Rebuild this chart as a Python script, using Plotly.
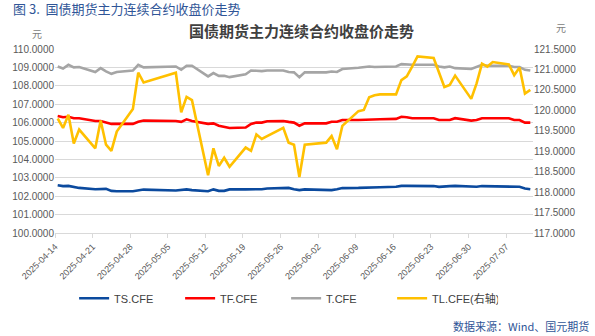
import pandas as pd
import plotly.graph_objects as go

dates = [
    "2025-04-14","2025-04-15","2025-04-16","2025-04-17","2025-04-18",
    "2025-04-21","2025-04-22","2025-04-23","2025-04-24","2025-04-25",
    "2025-04-28","2025-04-29","2025-04-30",
    "2025-05-06","2025-05-07","2025-05-08","2025-05-09",
    "2025-05-12","2025-05-13","2025-05-14","2025-05-15","2025-05-16",
    "2025-05-19","2025-05-20","2025-05-21","2025-05-22","2025-05-23",
    "2025-05-26","2025-05-27","2025-05-28","2025-05-29","2025-05-30",
    "2025-06-03","2025-06-04","2025-06-05","2025-06-06",
    "2025-06-09","2025-06-10","2025-06-11","2025-06-12","2025-06-13",
    "2025-06-16","2025-06-17","2025-06-18","2025-06-19","2025-06-20",
    "2025-06-23","2025-06-24","2025-06-25","2025-06-26","2025-06-27",
    "2025-06-30","2025-07-01","2025-07-02","2025-07-03","2025-07-04",
    "2025-07-07","2025-07-08","2025-07-09","2025-07-10","2025-07-11",
]

ts = [102.60,102.55,102.56,102.51,102.45,
      102.38,102.37,102.40,102.29,102.27,
      102.27,102.33,102.36,
      102.31,102.33,102.37,102.33,
      102.27,102.37,102.29,102.29,102.37,
      102.37,102.37,102.38,102.38,102.42,
      102.42,102.45,102.38,102.33,102.37,
      102.37,102.33,102.38,102.44,
      102.45,102.45,102.47,102.47,102.49,
      102.51,102.56,102.56,102.56,102.56,
      102.55,102.51,102.51,102.55,102.56,
      102.51,102.51,102.55,102.55,102.55,
      102.55,102.51,102.51,102.42,102.38]

tf = [106.36,106.29,106.32,106.24,106.24,
      106.09,106.09,106.02,105.93,105.93,
      105.93,106.05,106.11,
      106.09,106.04,106.18,106.09,
      105.93,105.96,105.83,105.75,105.71,
      105.73,105.93,106.00,106.00,106.07,
      106.09,106.04,106.00,105.83,105.96,
      105.96,106.05,106.05,106.14,
      106.14,106.14,106.18,106.14,106.18,
      106.20,106.32,106.29,106.24,106.24,
      106.24,106.14,106.14,106.14,106.24,
      106.11,106.14,106.24,106.24,106.24,
      106.24,106.14,106.14,106.00,106.00]

t = [109.05,108.94,109.14,109.00,109.02,
     108.75,108.96,108.78,108.65,108.75,
     108.83,109.14,109.00,
     109.05,108.87,109.09,109.09,
     108.51,108.69,108.54,108.54,108.47,
     108.63,108.83,108.82,108.80,108.83,
     108.83,108.75,108.73,108.47,108.73,
     108.73,108.78,108.75,108.91,
     108.98,109.00,109.05,109.02,109.02,
     109.05,109.18,109.14,109.14,109.14,
     109.14,109.05,109.00,109.05,108.96,
     108.91,109.02,109.14,109.09,109.09,
     109.09,109.02,109.02,108.87,108.83]

tl = [119.80,119.57,119.89,119.19,119.53,
      119.07,119.75,119.16,119.01,119.48,
      120.03,120.92,120.68,
      120.92,119.95,120.33,120.25,
      118.41,119.07,118.64,118.84,118.62,
      119.09,119.01,119.41,119.30,119.37,
      119.57,119.21,119.16,118.37,119.16,
      119.21,119.37,119.05,119.62,
      119.98,120.01,120.32,120.37,120.39,
      120.39,120.74,120.83,121.07,121.32,
      121.28,120.90,120.57,120.62,120.85,
      120.28,120.66,121.14,121.07,121.18,
      121.12,120.86,121.05,120.41,120.50]

tick_dates = ["2025-04-14","2025-04-21","2025-04-28","2025-05-05","2025-05-12",
              "2025-05-19","2025-05-26","2025-06-02","2025-06-09","2025-06-16",
              "2025-06-23","2025-06-30","2025-07-07"]

series_names = ["TS.CFE", "TF.CFE", "T.CFE", "TL.CFE(右轴)"]

x = pd.to_datetime(dates) + pd.Timedelta(hours=12)

colors = ["#0B4A9E", "#FF0000", "#A5A5A5", "#FFC000"]
fig = go.Figure()
for name, vals, col in zip(series_names[:3], [ts, tf, t], colors[:3]):
    fig.add_trace(go.Scatter(x=x, y=vals, name=name, mode="lines",
                             line=dict(color=col, width=2.6)))
fig.add_trace(go.Scatter(x=x, y=tl, name=series_names[3], mode="lines", yaxis="y2",
                         line=dict(color=colors[3], width=2.6)))

font_fam = "Liberation Sans, Noto Sans CJK SC, sans-serif"
tick_font = dict(family=font_fam, size=10, color="#595959")

fig.update_layout(
    width=595, height=336,
    margin=dict(l=51, r=62, t=49, b=103),
    paper_bgcolor="white", plot_bgcolor="white",
    font=dict(family=font_fam),
    showlegend=True,
    legend=dict(orientation="h", x=0.04, y=-0.355, xanchor="left", yanchor="middle",
                font=dict(family=font_fam, size=11, color="#404040"),
                entrywidth=61, entrywidthmode="pixels",
                bgcolor="rgba(0,0,0,0)"),
    xaxis=dict(type="date", range=["2025-04-14", "2025-07-12"],
               tickvals=pd.to_datetime(tick_dates), ticktext=tick_dates,
               tickangle=-45, tickfont=dict(family=font_fam, size=9, color="#595959"),
               showgrid=False, showline=True, linecolor="#D9D9D9", linewidth=1,
               ticks="outside", ticklen=4, tickcolor="#D9D9D9", zeroline=False),
    yaxis=dict(range=[100, 110], dtick=1, tickformat=".4f", tickfont=tick_font,
               showgrid=True, gridcolor="#D9D9D9", gridwidth=1, zeroline=False,
               showline=False, ticks=""),
    yaxis2=dict(range=[117, 121.5], dtick=0.5, tickformat=".4f", tickfont=tick_font,
                overlaying="y", side="right", showgrid=False, zeroline=False,
                showline=False, ticks=""),
    annotations=[
        dict(text="图 3.  国债期货主力连续合约收盘价走势", xref="paper", yref="paper",
             x=-0.092, y=(232.7 - 9) / 183.4, xanchor="left", yanchor="middle",
             showarrow=False, font=dict(family="Noto Sans CJK SC", size=13, color="#2F5597")),
        dict(text="<b>国债期货主力连续合约收盘价走势</b>", xref="paper", yref="paper",
             x=(300 - 51) / 482, y=(232.7 - 31) / 183.4, xanchor="center", yanchor="middle",
             showarrow=False, font=dict(family="Noto Sans CJK SC", size=15, color="#404040")),
        dict(text="元", xref="paper", yref="paper",
             x=(33 - 51) / 482, y=(232.7 - 34) / 183.4, xanchor="center", yanchor="middle",
             showarrow=False, font=dict(family="Noto Sans CJK SC", size=10, color="#808080")),
        dict(text="元", xref="paper", yref="paper",
             x=(561 - 51) / 482, y=(232.7 - 28) / 183.4, xanchor="center", yanchor="middle",
             showarrow=False, font=dict(family="Noto Sans CJK SC", size=10, color="#808080")),
        dict(text="数据来源：Wind、国元期货", xref="paper", yref="paper",
             x=(591 - 51) / 482, y=(232.7 - 325) / 183.4, xanchor="right", yanchor="middle",
             showarrow=False, font=dict(family="Noto Sans CJK SC", size=11, color="#2F5597")),
    ],
)

fig.write_html("out.html")
